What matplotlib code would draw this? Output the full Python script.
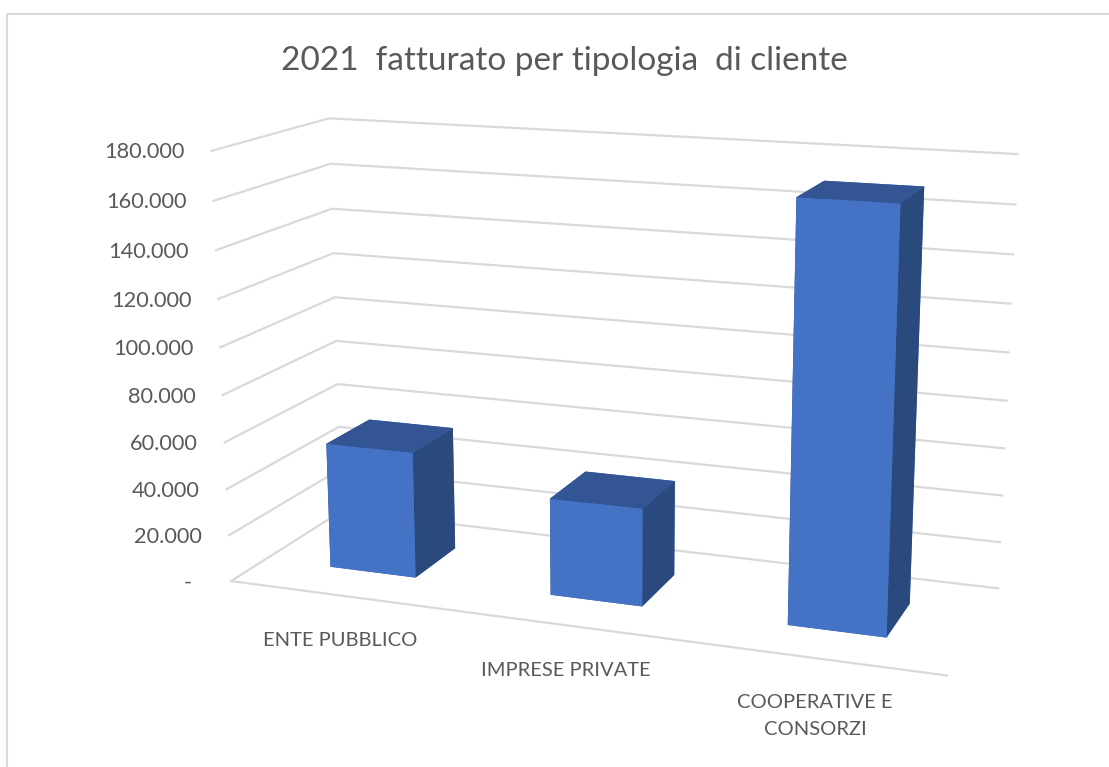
import numpy as np
import matplotlib
matplotlib.use("Agg")
import matplotlib.pyplot as plt
from mpl_toolkits.mplot3d import proj3d

categories = ["ENTE PUBBLICO", "IMPRESE PRIVATE", "COOPERATIVE E\nCONSORZI"]
values = [54200, 41100, 170200]
yticks = [0, 20000, 40000, 60000, 80000, 100000, 120000, 140000, 160000, 180000]
ytick_labels = ["-", "20.000", "40.000", "60.000", "80.000", "100.000", "120.000", "140.000", "160.000", "180.000"]
title = "2021  fatturato per tipologia  di cliente"

W, H = 1109, 767
plt.rcParams['font.family'] = ['Lato', 'DejaVu Sans']
txt = '#595959'
grid = '#D9D9D9'
front, top, side = '#4472C4', '#335593', '#2A4A7E'

fig = plt.figure(figsize=(W/100, H/100), dpi=100)
ax = fig.add_axes([0.1, 0.1, 0.8, 0.8], projection='3d')
ax.set_xlim(0, 3)
ax.set_ylim(0, 1)
ax.set_zlim(0, 180000)

# camera fitted to the walls of the reference
ax.view_init(elev=14.318, azim=-69.8055, roll=0.0235)
ax.set_proj_type('persp', focal_length=0.4677)
ax.set_box_aspect((2.6839, 0.8993, 1.6046))
ax.set_axis_off()
ax.computed_zorder = False

# square axes so that one projected unit = s px, centered at (cx, cy) from the top left
s, cx, cy = 4743.767, 612.584, 373.93
lim = ax.viewLim
side_px = s*(lim.x1-lim.x0)
ax.set_position([(cx + s*lim.x0)/W, 1 - (cy - s*lim.y0)/H, side_px/W, side_px/H])

for v in yticks:
    ax.plot([0, 0, 3], [0, 1, 1], [v, v, v], color=grid, lw=1.6, zorder=1, solid_joinstyle='miter')
ax.plot([0, 3], [0, 0], [0, 0], color=grid, lw=1.6, zorder=1)

for i, v in enumerate(values):
    ax.bar3d(i+0.305, 0.3, 0, 0.395, 0.4, v, shade=False, zorder=2+i,
             color=[front, top, front, front, side, side])

# value labels follow the left edge of the wall
M = ax.get_proj()
for v, lab in zip(yticks, ytick_labels):
    u, w, _ = proj3d.proj_transform(0, 0, v, M)
    ax.text2D(u - (39 if v == 0 else 27)/s, w - 1.5/s, lab, transform=ax.transData,
              ha='right', va='center', fontsize=15.7, color=txt)

fig.text(564/W, 1-61/H, title, ha='center', va='center', fontsize=24, color=txt)
for lab, px, py in zip(categories, [340, 566, 815], [640, 671, 716]):
    fig.text(px/W, 1-py/H, lab, ha='center', va='center', fontsize=14.5, color=txt, linespacing=1.7)

# chart border: only top and left fall inside the crop
fig.add_artist(plt.Line2D([7/W, 7/W, 1], [0, 1-13.5/H, 1-13.5/H], transform=fig.transFigure, color=grid, lw=1.5))
fig.savefig("out.png")
